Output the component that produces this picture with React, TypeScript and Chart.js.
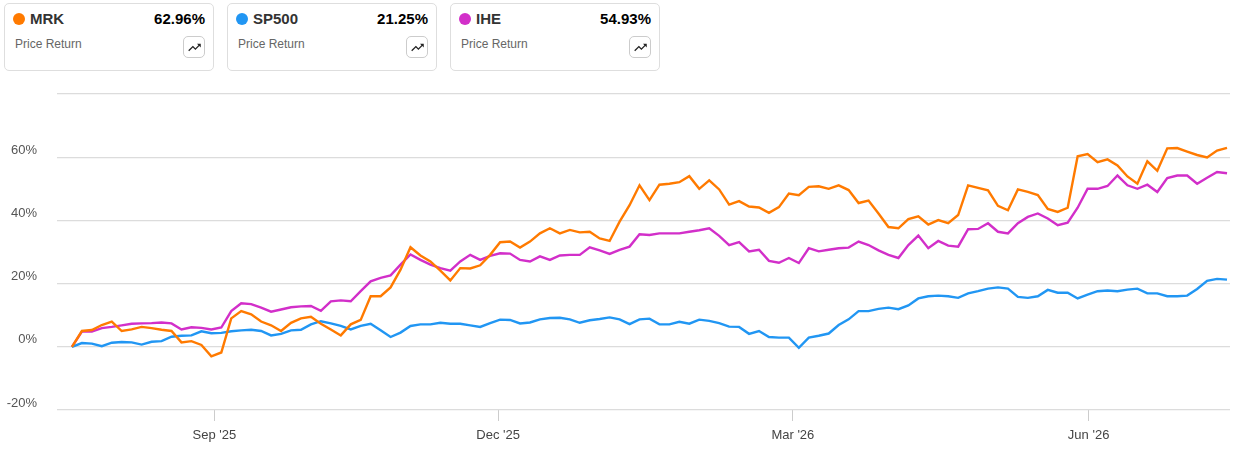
import { useEffect, useRef } from "react"
import { Chart, registerables } from "chart.js"

Chart.register(...registerables)

// sampled closes (price return %, every ~2 sessions from mid Jul '25)
const mrk = [
  0, 5.0, 5.3, 6.9, 8.0, 5.0, 5.5, 6.3, 5.9, 5.4, 5.0, 1.4, 1.8, 0.6, -3.0, -1.8, 9.0, 11.3, 10.3, 8.0,
  6.8, 5.0, 7.6, 9.0, 9.5, 7.3, 5.5, 3.6, 7.1, 8.5, 16.0, 16.0, 18.8, 24.4, 31.5, 28.9, 27.0, 24.1, 21.0, 24.9,
  24.8, 25.8, 29.1, 33.1, 33.3, 31.4, 33.3, 35.9, 37.5, 35.9, 37.0, 36.2, 36.4, 34.3, 33.5, 39.6, 44.8, 51.1, 46.4, 51.3,
  51.6, 52.1, 54.0, 50.0, 52.7, 49.8, 45.0, 46.1, 44.4, 44.1, 42.4, 44.2, 48.5, 48.0, 50.6, 50.8, 50.0, 51.1, 49.6, 45.5,
  46.3, 42.2, 37.9, 37.5, 40.4, 41.3, 38.7, 40.1, 39.1, 41.7, 51.1, 50.3, 49.5, 44.6, 43.2, 49.8, 49.0, 48.0, 43.6, 42.7,
  44.0, 60.3, 61.0, 58.4, 59.3, 57.4, 53.9, 51.6, 58.7, 55.7, 62.8, 62.9, 61.8, 60.7, 59.9, 62.1, 62.96,
]
const sp500 = [
  0, 1.2, 1.0, 0.2, 1.3, 1.5, 1.4, 0.7, 1.6, 1.8, 3.2, 3.5, 3.6, 4.9, 4.3, 4.4, 4.9, 5.2, 5.4, 5.0,
  3.6, 4.1, 5.2, 5.4, 7.1, 8.1, 7.4, 6.6, 5.5, 6.6, 7.3, 5.2, 3.1, 4.5, 6.6, 7.1, 7.1, 7.6, 7.3, 7.3,
  6.8, 6.3, 7.5, 8.6, 8.5, 7.4, 7.7, 8.7, 9.1, 9.2, 8.7, 7.6, 8.4, 8.8, 9.3, 8.7, 7.2, 8.7, 8.9, 7.1,
  7.1, 7.9, 7.3, 8.6, 8.2, 7.5, 6.4, 6.3, 4.1, 5.0, 3.1, 2.9, 2.9, -0.3, 2.9, 3.5, 4.2, 6.9, 8.7, 11.3,
  11.3, 12.0, 12.4, 11.9, 13.1, 15.3, 16.0, 16.2, 16.0, 15.5, 16.9, 17.6, 18.4, 18.8, 18.4, 15.8, 15.5, 16.0, 18.0, 17.1,
  17.1, 15.3, 16.5, 17.6, 17.8, 17.6, 18.1, 18.4, 16.9, 16.9, 16.0, 16.0, 16.2, 18.3, 20.9, 21.5, 21.25,
]
const ihe = [
  0, 4.8, 4.8, 5.9, 6.3, 6.8, 7.3, 7.4, 7.5, 7.7, 7.4, 5.5, 6.2, 6.0, 5.5, 6.1, 11.3, 13.8, 13.5, 12.4,
  11.1, 11.8, 12.5, 12.8, 12.9, 11.4, 14.4, 14.7, 14.4, 17.6, 20.7, 21.8, 22.6, 26.0, 29.2, 27.5, 26.0, 24.9, 24.1, 27.0,
  29.1, 27.5, 28.8, 29.6, 29.5, 27.5, 27.0, 28.6, 27.5, 28.9, 29.1, 29.1, 31.5, 30.5, 29.4, 30.7, 31.7, 35.6, 35.4, 35.9,
  35.9, 35.9, 36.4, 36.9, 37.5, 35.1, 32.2, 33.1, 30.2, 30.7, 27.2, 26.6, 28.1, 26.5, 31.2, 30.2, 30.7, 31.2, 31.4, 33.3,
  32.2, 30.5, 29.1, 28.1, 32.2, 35.2, 31.2, 33.5, 32.0, 31.7, 37.2, 37.3, 39.1, 36.4, 35.9, 39.1, 41.1, 42.2, 40.6, 38.5,
  39.3, 44.0, 50.0, 50.0, 50.9, 54.2, 51.1, 50.0, 51.3, 49.0, 53.4, 54.2, 54.2, 51.6, 53.5, 55.3, 54.93,
]

const tickLabels = ["Sep '25", "Dec '25", "Mar '26", "Jun '26"]
const tickSamples = [14.3, 42.8, 72.4, 102.1]

const symbols = ["MRK", "SP500", "IHE"]
const returns = [62.96, 21.25, 54.93]
const colors = ["#ff7a00", "#2196f3", "#d22fc9"]
const series = [mrk, sp500, ihe]

const font = "Arial, 'Liberation Sans', Helvetica, sans-serif"

function TrendIcon() {
  return (
    <svg width="15" height="15" viewBox="0 0 24 24">
      <path d="M16 6l2.29 2.29-4.88 4.88-4-4L2 16.59 3.41 18l6-6 4 4 6.3-6.29L22 12V6z" fill="#222" />
    </svg>
  )
}

function Card({ i }: { i: number }) {
  return (
    <div
      style={{
        position: "absolute",
        left: 4 + i * 223,
        top: 3,
        width: 208,
        height: 66,
        border: "1px solid #dedede",
        borderRadius: 5,
        boxSizing: "content-box",
        fontFamily: font,
      }}
    >
      <div
        style={{
          position: "absolute",
          left: 8,
          top: 9,
          width: 12,
          height: 12,
          borderRadius: "50%",
          background: colors[i],
        }}
      />
      <div style={{ position: "absolute", left: 25, top: 6, fontSize: 15, fontWeight: "bold", color: "#333" }}>
        {symbols[i]}
      </div>
      <div style={{ position: "absolute", right: 8, top: 6, fontSize: 15, fontWeight: "bold", color: "#000" }}>
        {returns[i].toFixed(2)}%
      </div>
      <div style={{ position: "absolute", left: 10, top: 33, fontSize: 12, color: "#666" }}>Price Return</div>
      <div
        style={{
          position: "absolute",
          left: 178,
          top: 32,
          width: 20,
          height: 20,
          border: "1px solid #ccc",
          borderRadius: 5,
          display: "flex",
          alignItems: "center",
          justifyContent: "center",
        }}
      >
        <TrendIcon />
      </div>
    </div>
  )
}

export default function App() {
  const chartRef = useRef<HTMLCanvasElement>(null)
  const chartInstance = useRef<Chart | null>(null)

  useEffect(() => {
    if (!chartRef.current) return
    if (chartInstance.current) chartInstance.current.destroy()

    const ctx = chartRef.current.getContext("2d")
    if (!ctx) return

    chartInstance.current = new Chart(ctx, {
      type: "line",
      data: {
        datasets: series.map((s, k) => ({
          label: symbols[k],
          data: s.map((v, idx) => ({ x: idx, y: v })),
          borderColor: colors[k],
          backgroundColor: colors[k],
          borderWidth: 2.4,
          pointRadius: 0,
          tension: 0,
        })),
      },
      options: {
        animation: false,
        responsive: true,
        maintainAspectRatio: false,
        layout: { padding: { top: 14, right: 6, left: 0, bottom: 0 } },
        plugins: {
          legend: { display: false },
          tooltip: { enabled: false },
        },
        scales: {
          x: {
            type: "linear",
            min: -1.5,
            max: 116.3,
            afterBuildTicks: (scale) => {
              scale.ticks = tickSamples.map((v) => ({ value: v }))
            },
            afterFit: (scale) => {
              scale.height = 40
            },
            ticks: {
              autoSkip: false,
              maxRotation: 0,
              padding: 7,
              color: "#444",
              font: { family: font, size: 13 },
              callback: (value) => {
                const k = tickSamples.indexOf(Number(value))
                return k >= 0 ? tickLabels[k] : ""
              },
            },
            grid: {
              display: true,
              drawOnChartArea: false,
              drawTicks: true,
              tickLength: 11,
              color: "#cccccc",
            },
            border: { display: false },
          },
          y: {
            min: -20,
            max: 80,
            afterFit: (scale) => {
              scale.width = 57
              scale.paddingTop = 0
              scale.paddingBottom = 0
            },
            ticks: {
              stepSize: 20,
              padding: 20,
              labelOffset: -7,
              color: "#555",
              font: { family: font, size: 13 },
              callback: (value) => (Number(value) === 80 ? "" : `${value}%`),
            },
            grid: { color: "#dcdcdc", lineWidth: 1.2, drawTicks: false },
            border: { display: false },
          },
        },
      },
    })

    return () => {
      if (chartInstance.current) {
        chartInstance.current.destroy()
        chartInstance.current = null
      }
    }
  }, [])

  return (
    <div style={{ position: "absolute", left: 0, top: 0, width: 1236, height: 450, background: "#fff" }}>
      {symbols.map((_, i) => (
        <Card key={i} i={i} />
      ))}
      <div style={{ position: "absolute", left: 0, top: 80, width: 1236, height: 370 }}>
        <canvas ref={chartRef} />
      </div>
    </div>
  )
}
